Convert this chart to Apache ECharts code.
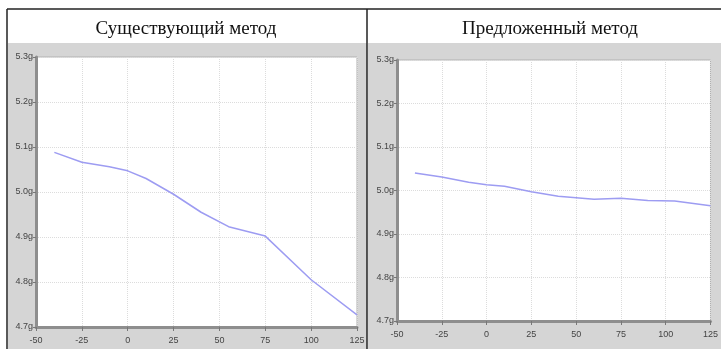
<!DOCTYPE html>
<html>
<head>
<meta charset="utf-8">
<script src="https://cdn.jsdelivr.net/npm/echarts@6/dist/echarts.min.js"></script>
<style>
  html, body { margin: 0; padding: 0; background: #fff; }
  #chart { width: 721px; height: 349px; }
</style>
</head>
<body>
<div id="chart"></div>
<script>
// ===== data =====
const titles = ['Существующий метод', 'Предложенный метод']
const existingTemp = [-40, -25, -10, 0, 10, 25, 40, 55, 75, 100, 125]
const existingWeight = [5.088, 5.066, 5.056, 5.047, 5.030, 4.995, 4.955, 4.923, 4.902, 4.805, 4.727]
const proposedTemp = [-40, -25, -10, 0, 10, 25, 40, 60, 75, 90, 105, 125]
const proposedWeight = [5.040, 5.031, 5.019, 5.013, 5.010, 4.997, 4.987, 4.980, 4.982, 4.977, 4.976, 4.965]
const xTicks = [-50, 125, 25]      // min, max, step
const yTicks = [4.7, 5.3, 0.1]

const chart = echarts.init(document.getElementById('chart'))

const LABEL = { fontFamily: 'Liberation Sans, Arial, sans-serif', fontSize: 9, color: '#444' }
const grids = [
  { left: 36, top: 57, width: 321, height: 270 },
  { left: 397, top: 60, width: 318, height: 261 }
]

const xAxisFor = i => ({
  type: 'value', gridIndex: i,
  min: xTicks[0], max: xTicks[1], interval: xTicks[2],
  axisLine: { show: true, onZero: false, lineStyle: { color: '#8e8e8e', width: 3 } },
  axisTick: { show: true, length: 4, lineStyle: { color: '#777' } },
  axisLabel: { ...LABEL, margin: 9 },
  splitLine: { show: true, lineStyle: { color: '#dcdcdc', type: 'dotted' } }
})
const yAxisFor = i => ({
  type: 'value', gridIndex: i,
  min: yTicks[0], max: yTicks[1], interval: yTicks[2],
  axisLine: { show: true, onZero: false, lineStyle: { color: '#8e8e8e', width: 3 } },
  axisTick: { show: true, length: 3, lineStyle: { color: '#777' } },
  axisLabel: { ...LABEL, margin: 3, formatter: v => v.toFixed(1) + 'g' },
  splitLine: { show: true, lineStyle: { color: '#dcdcdc', type: 'dotted' } }
})

const pairs = (xs, ys) => xs.map((x, k) => [x, ys[k]])
const TITLE_STYLE = { fontFamily: 'Liberation Serif, Times New Roman, serif', fontSize: 19, fontWeight: 'normal', color: '#111' }

chart.setOption({
  animation: false,
  backgroundColor: '#fff',
  graphic: [
    // grey panels behind the plots
    { type: 'rect', z: -10, shape: { x: 8, y: 43, width: 359, height: 306 }, style: { fill: '#d5d5d5' } },
    { type: 'rect', z: -10, shape: { x: 368, y: 43, width: 353, height: 306 }, style: { fill: '#d5d5d5' } },
    // table frame
    { type: 'line', z: 10, shape: { x1: 7, y1: 9, x2: 721, y2: 9 }, style: { stroke: '#222', lineWidth: 1.5 } },
    { type: 'line', z: 10, shape: { x1: 7, y1: 9, x2: 7, y2: 349 }, style: { stroke: '#222', lineWidth: 1.5 } },
    { type: 'line', z: 10, shape: { x1: 367, y1: 9, x2: 367, y2: 349 }, style: { stroke: '#222', lineWidth: 1.5 } }
  ],
  title: [
    { text: titles[0], left: 181, top: 15, textAlign: 'center', textStyle: TITLE_STYLE },
    { text: titles[1], left: 545, top: 15, textAlign: 'center', textStyle: TITLE_STYLE }
  ],
  grid: grids.map(g => ({ ...g, show: true, backgroundColor: '#fff', borderColor: '#b0b0b0', borderWidth: 1 })),
  xAxis: [xAxisFor(0), xAxisFor(1)],
  yAxis: [yAxisFor(0), yAxisFor(1)],
  series: [
    { type: 'line', xAxisIndex: 0, yAxisIndex: 0, data: pairs(existingTemp, existingWeight),
      showSymbol: false, smooth: false, lineStyle: { color: '#9d9cf2', width: 1.5 } },
    { type: 'line', xAxisIndex: 1, yAxisIndex: 1, data: pairs(proposedTemp, proposedWeight),
      showSymbol: false, smooth: false, lineStyle: { color: '#9d9cf2', width: 1.5 } }
  ]
})
</script>
</body>
</html>
